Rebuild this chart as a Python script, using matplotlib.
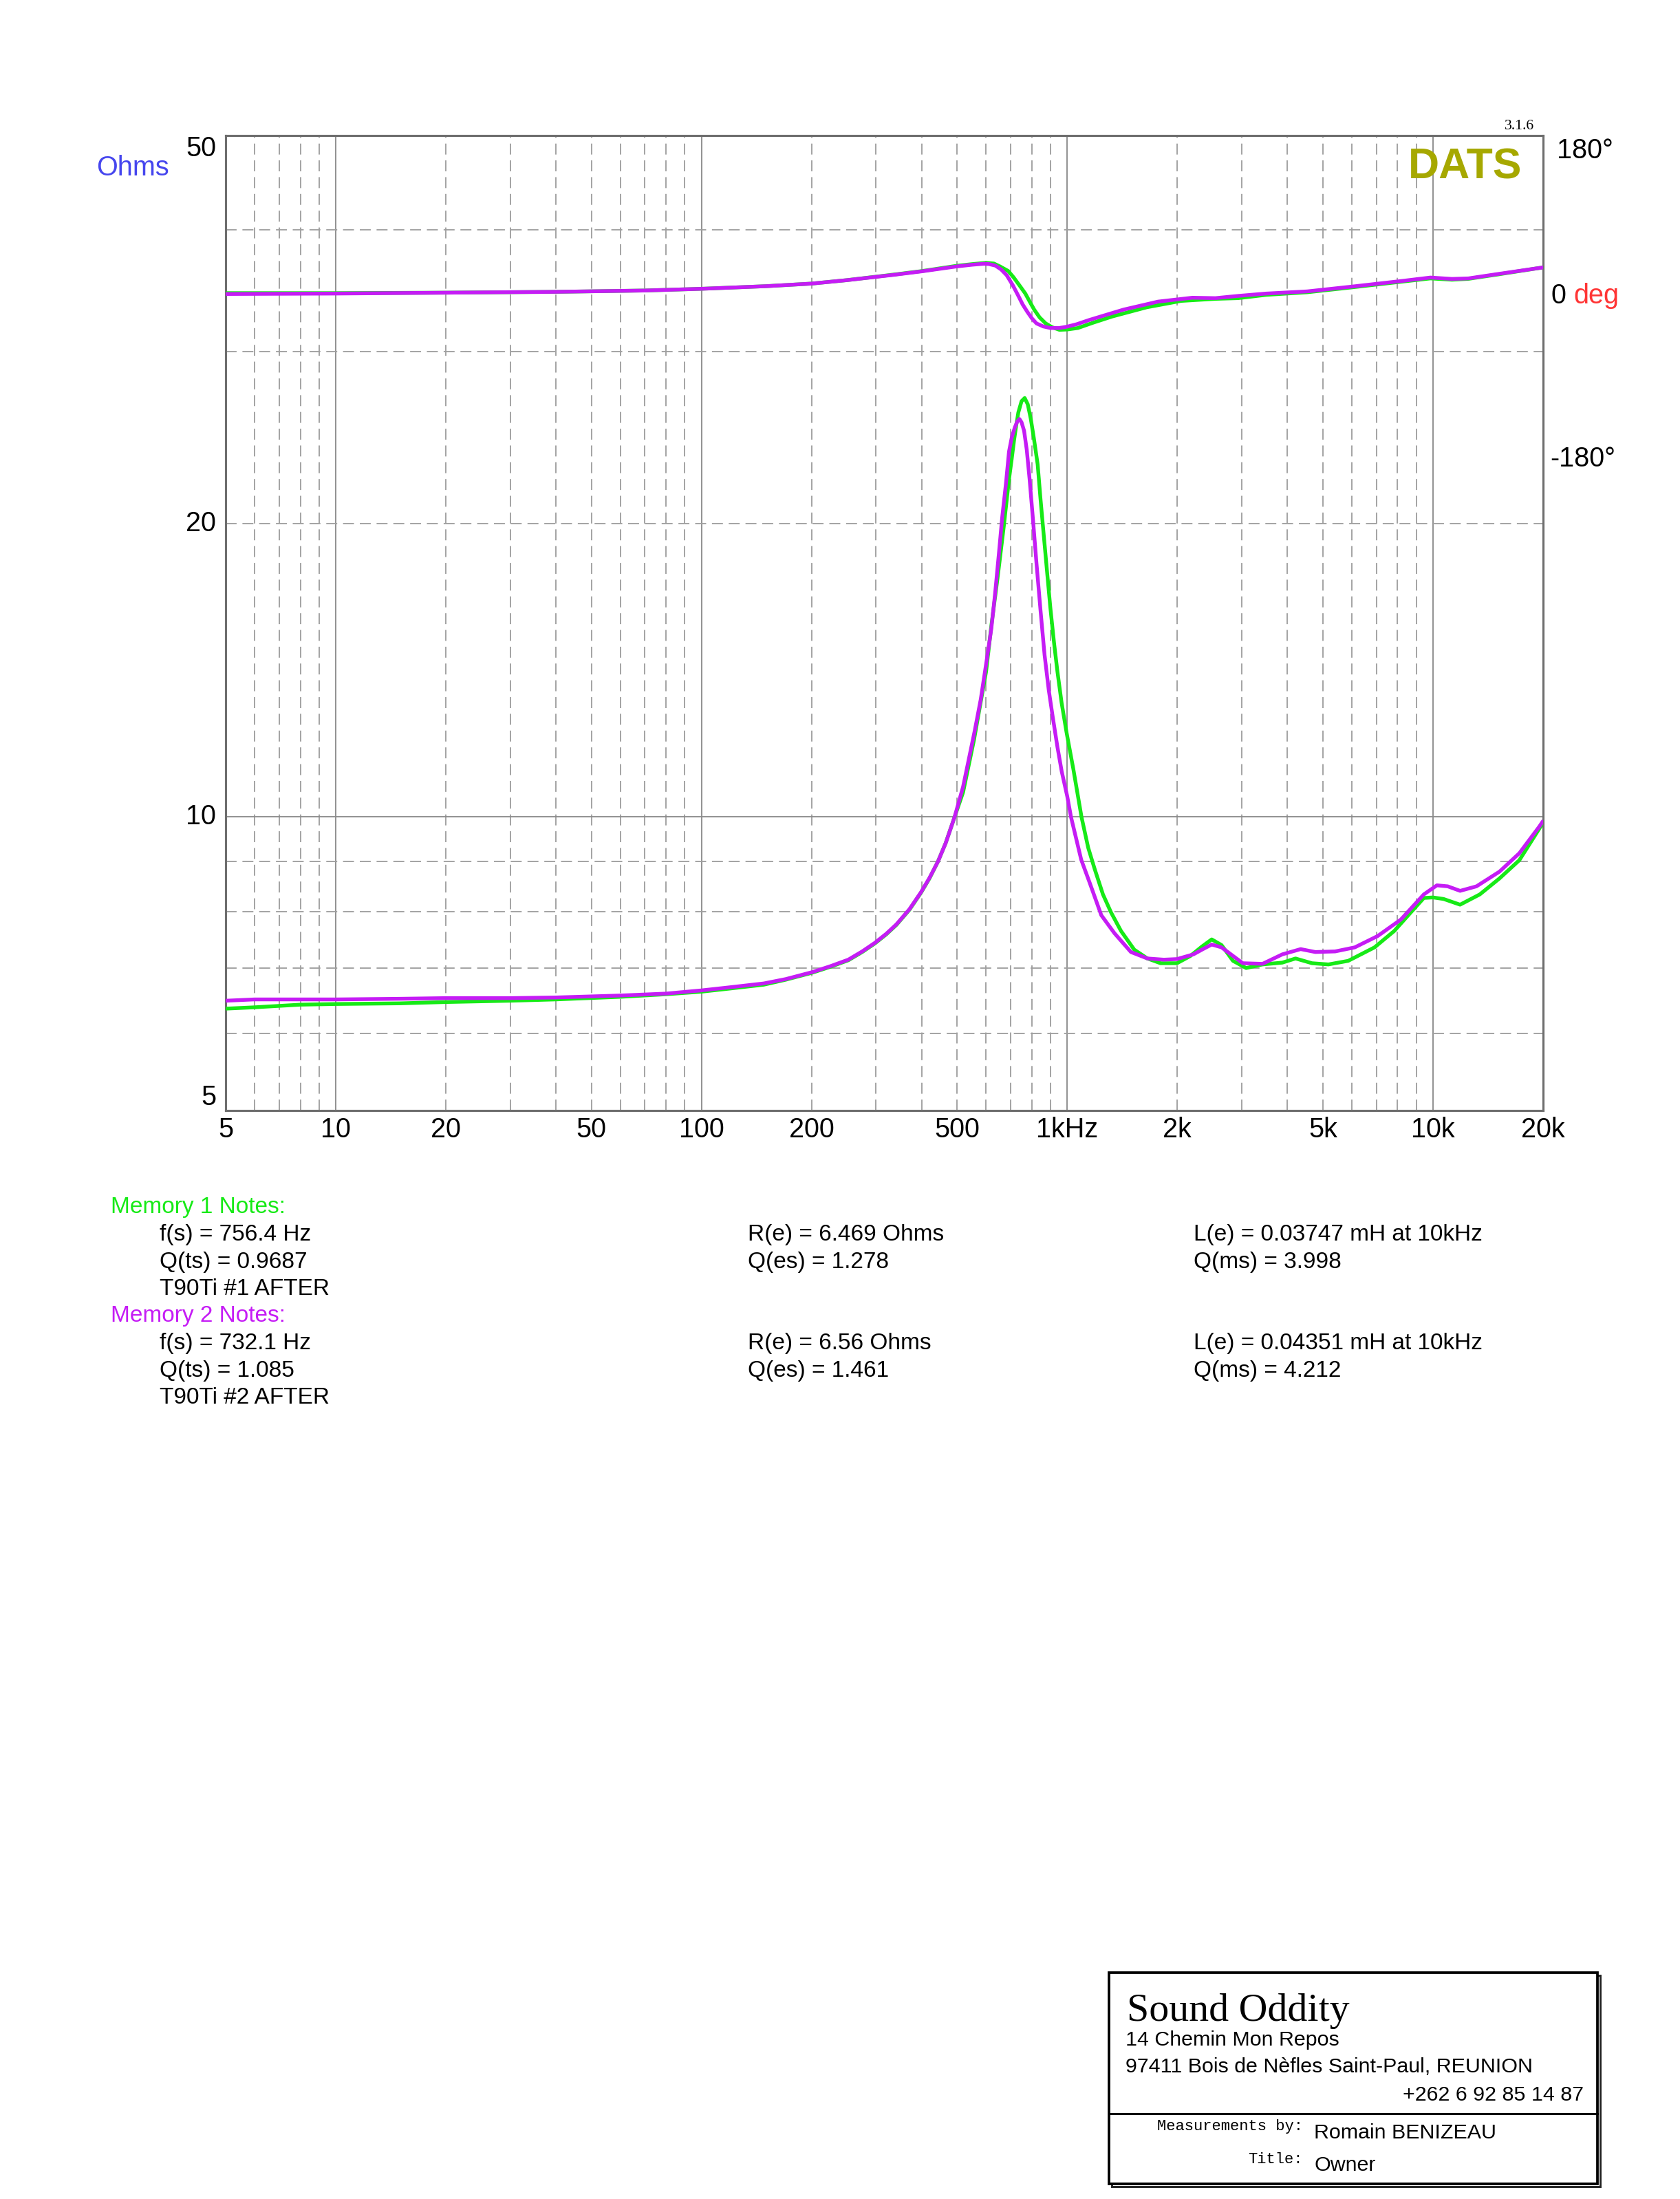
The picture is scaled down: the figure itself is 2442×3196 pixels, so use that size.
import matplotlib
matplotlib.use('Agg')
import matplotlib.pyplot as plt
from matplotlib.patches import Rectangle
from matplotlib.lines import Line2D
from matplotlib.ticker import NullLocator

plt.rcParams['font.family'] = ['Liberation Sans', 'DejaVu Sans']

# ---------------- data ----------------
# Memory 1 (green) impedance, Ohms
freq_imp_1 = [5, 6, 8, 10, 15, 20, 30, 40, 60, 80, 100, 120, 148, 170, 200, 225, 252, 275, 298,
              320, 341, 370, 398, 420, 443, 465, 492, 519, 556, 600, 620, 645, 670, 693, 705,
              715, 725, 735, 750, 765, 780, 795, 810, 830, 845, 861, 880, 899, 920, 940, 965,
              996, 1039, 1094, 1141, 1189, 1252, 1318, 1403, 1525, 1656, 1799, 1995,
              2168, 2330, 2483, 2642, 2839, 3084, 3420, 3873, 4209, 4669, 5178, 5864, 6920,
              7834, 8690, 9440, 10000, 10690, 11860, 13430, 15200, 17220, 19500, 19900]
imp_1 = [6.36, 6.38, 6.42, 6.43, 6.44, 6.46, 6.48, 6.50, 6.54, 6.58, 6.62, 6.67, 6.73, 6.81,
         6.92, 7.02, 7.13, 7.27, 7.42, 7.58, 7.75, 8.03, 8.36, 8.65, 9.0, 9.4, 10.0, 10.6, 12.0,
         14.1, 15.7, 17.6, 19.8, 22.2, 23.3, 24.3, 25.2, 26.0, 26.7, 26.9, 26.5, 25.6, 24.5,
         23.0, 21.2, 19.6, 17.9, 16.4, 15.1, 14.1, 13.1, 12.2, 11.2, 10.0, 9.3, 8.84,
         8.33, 7.98, 7.64, 7.31, 7.16, 7.08, 7.08, 7.20, 7.36, 7.49, 7.39, 7.12, 7.00, 7.06,
         7.09, 7.16, 7.08, 7.06, 7.12, 7.35, 7.64, 7.98, 8.26, 8.27, 8.24, 8.13, 8.33, 8.65,
         9.03, 9.72, 9.85]

# Memory 2 (purple) impedance, Ohms
freq_imp_2 = [5, 6, 8, 10, 15, 20, 30, 40, 60, 80, 100, 120, 148, 170, 200, 225, 252, 275, 298,
              320, 341, 370, 398, 420, 443, 465, 492, 519, 558, 580, 600, 620, 635, 650, 664,
              680, 693, 705, 719, 730, 740, 750, 762, 775, 789, 805, 824, 845, 867, 890, 912,
              940, 966, 1000, 1024, 1092, 1152, 1239, 1346, 1493, 1656, 1837, 1995, 2213, 2350,
              2483, 2642, 3020, 3420, 3873, 4347, 4766, 5400, 6110, 7060, 8170, 9440, 10250,
              10970, 11860, 13150, 15200, 17220, 19500, 19900]
imp_2 = [6.48, 6.50, 6.50, 6.50, 6.51, 6.52, 6.52, 6.53, 6.56, 6.59, 6.64, 6.69, 6.75, 6.82,
         6.93, 7.03, 7.14, 7.28, 7.43, 7.59, 7.76, 8.04, 8.37, 8.66, 9.0, 9.4, 10.0, 10.74, 12.24,
         13.2, 14.35, 15.6, 16.96, 18.6, 20.3, 22.0, 23.7, 24.5, 25.1, 25.45, 25.6, 25.4, 24.9,
         23.8, 22.2, 20.3, 18.2, 16.3, 14.66, 13.5, 12.69, 11.8, 11.13, 10.5, 10.0, 9.04, 8.56,
         7.93, 7.60, 7.27, 7.16, 7.14, 7.15, 7.23, 7.32, 7.40, 7.35, 7.08, 7.07, 7.23, 7.32,
         7.27, 7.28, 7.35, 7.55, 7.85, 8.33, 8.51, 8.49, 8.40, 8.49, 8.79, 9.18, 9.77, 9.88]

# Memory 1 (green) phase, degrees
freq_ph_1 = [5, 10, 20, 40, 70, 100, 150, 200, 250, 337, 401, 498, 550, 600, 630, 655, 690, 714,
             740, 768, 790, 812, 840, 873, 910, 952, 1000, 1069, 1180, 1327, 1648, 2047, 2541,
             2936, 3500, 4530, 5960, 8320, 9840, 11270, 12500, 15000, 19500, 19900]
ph_1 = [-2, -2, -1.5, -0.5, 1, 3, 6, 9, 13, 19.5, 23.5, 29.5, 31.5, 33, 32.2, 28.8, 23.5, 16,
        7, -2.5, -12, -21, -30, -37, -41.5, -44.4, -44, -42.3, -36, -29, -18.4, -11, -8.6,
        -7.8, -4, -1, 4.5, 11.5, 15, 13.5, 14.5, 19.5, 27, 27.5]

# Memory 2 (purple) phase, degrees
freq_ph_2 = [5, 10, 20, 40, 70, 100, 150, 200, 250, 337, 401, 498, 550, 592, 610, 636, 660, 683,
             710, 735, 755, 778, 800, 824, 860, 899, 950, 995, 1060, 1149, 1280, 1427, 1772,
             2198, 2541, 2936, 3500, 4530, 5960, 8320, 9840, 11270, 12500, 15000, 19500, 19900]
ph_2 = [-3, -2.5, -1.5, -0.5, 1, 3, 6, 9, 13, 19.2, 23.2, 28.8, 30.8, 31.9, 31.6, 29.8, 25.2,
        18.7, 7, -5.2, -15, -23.7, -31, -37, -40.5, -42.3, -42.3, -40.9, -38, -33, -27, -21,
        -11.8, -7.3, -7.8, -5.2, -2.5, 0, 5.4, 12.3, 16, 14.4, 15, 20, 27, 27.5]

xtick_vals = [5, 10, 20, 50, 100, 200, 500, 1000, 2000, 5000, 10000, 20000]
xtick_labels = ['5', '10', '20', '50', '100', '200', '500', '1kHz', '2k', '5k', '10k', '20k']
ytick_vals = [5, 10, 20, 50]
ytick_labels = ['5', '10', '20', '50']
grid_x_solid = [10, 100, 1000, 10000]
grid_x_dashed = [6, 7, 8, 9, 20, 30, 40, 50, 60, 70, 80, 90, 200, 300, 400, 500, 600, 700, 800,
                 900, 2000, 3000, 4000, 5000, 6000, 7000, 8000, 9000]
grid_y_solid = [10]
grid_y_dashed = [6, 7, 8, 9, 20, 30, 40]
phase_labels = ['180°', '0', '-180°']

notes_1 = [['f(s) = 756.4 Hz', 'R(e) = 6.469 Ohms', 'L(e) = 0.03747 mH at 10kHz'],
           ['Q(ts) = 0.9687', 'Q(es) = 1.278', 'Q(ms) = 3.998'],
           ['T90Ti #1 AFTER', '', '']]
notes_2 = [['f(s) = 732.1 Hz', 'R(e) = 6.56 Ohms', 'L(e) = 0.04351 mH at 10kHz'],
           ['Q(ts) = 1.085', 'Q(es) = 1.461', 'Q(ms) = 4.212'],
           ['T90Ti #2 AFTER', '', '']]

GREEN = '#16ea16'
PURPLE = '#c51cf5'

# ---------------- figure ----------------
W, H = 2442, 3196
DPI = 300
fig = plt.figure(figsize=(W / DPI, H / DPI), dpi=DPI)
fig.patch.set_facecolor('white')


def fx(x):
    return x / W


def fy(y):
    return 1 - y / H


L, R, T, B = 328, 2243, 197, 1614
pos = [fx(L), fy(B), (R - L) / W, (B - T) / H]
ax = fig.add_axes(pos)
ax.set_xscale('log')
ax.set_yscale('log')
ax.set_xlim(5, 20000)
ax.set_ylim(5, 50)
ax.xaxis.set_major_locator(NullLocator())
ax.xaxis.set_minor_locator(NullLocator())
ax.yaxis.set_major_locator(NullLocator())
ax.yaxis.set_minor_locator(NullLocator())
for s in ax.spines.values():
    s.set_color('#6e6e6e')
    s.set_linewidth(0.75)

dash = (0, (8.5, 4.5))
for v in grid_x_solid:
    ax.axvline(v, color='#8c8c8c', lw=0.45, zorder=1)
for v in grid_x_dashed:
    ax.axvline(v, color='#a0a0a0', lw=0.45, ls=dash, zorder=1)
for v in grid_y_solid:
    ax.axhline(v, color='#8c8c8c', lw=0.45, zorder=1)
for v in grid_y_dashed:
    ax.axhline(v, color='#a0a0a0', lw=0.45, ls=dash, zorder=1)

LW = 1.3
ax.plot(freq_imp_1, imp_1, color=GREEN, lw=LW, zorder=3, solid_joinstyle='round')
ax.plot(freq_imp_2, imp_2, color=PURPLE, lw=LW, zorder=4, solid_joinstyle='round')

# phase axis: 180 at top of frame, -180 at pixel row 650
ph_per_px = 360.0 / (650 - T)
ax2 = fig.add_axes(pos, frameon=False)
ax2.set_xscale('log')
ax2.set_xlim(5, 20000)
ax2.set_ylim(180 - (B - T) * ph_per_px, 180)
ax2.axis('off')
ax2.plot(freq_ph_1, ph_1, color=GREEN, lw=LW, zorder=3, solid_joinstyle='round')
ax2.plot(freq_ph_2, ph_2, color=PURPLE, lw=LW, zorder=4, solid_joinstyle='round')

# tick labels
TS = 9.5
xt = ax.get_xaxis_transform()
for v, lab in zip(xtick_vals, xtick_labels):
    ax.text(v, -(1653 - B) / (B - T), lab, transform=xt, ha='center', va='baseline',
            fontsize=TS, color='black', clip_on=False)
yt = ax.get_yaxis_transform()
yva = {5: 'bottom', 10: 'center', 20: 'center', 50: 'top'}
for v, lab in zip(ytick_vals, ytick_labels):
    ax.text(-(L - 314) / (R - L), v, lab, transform=yt, ha='right', va=yva[v],
            fontsize=TS, color='black', clip_on=False)

fig.text(fx(140), fy(255), 'Ohms', color='#4646ee', fontsize=TS, va='baseline', ha='left')
fig.text(fx(2263), fy(230), phase_labels[0], fontsize=TS, va='baseline', ha='left')
fig.text(fx(2254), fy(441), phase_labels[1], fontsize=TS, va='baseline', ha='left')
fig.text(fx(2287), fy(441), 'deg', fontsize=TS, va='baseline', ha='left', color='#ff3535')
fig.text(fx(2253), fy(678), phase_labels[2], fontsize=TS, va='baseline', ha='left')

fig.text(fx(2047), fy(259), 'DATS', fontsize=15, fontweight='bold', color='#a6a800',
         va='baseline', ha='left')
fig.text(fx(2230), fy(188), '3.1.6', fontsize=5.2, family='Liberation Serif',
         va='baseline', ha='right')

# notes
NS = 8.0
col_x = [232, 1087, 1735]
fig.text(fx(161), fy(1763), 'Memory 1 Notes:', color=GREEN, fontsize=NS, va='baseline')
base = 1803
for i, row in enumerate(notes_1):
    for cx, t in zip(col_x, row):
        if t:
            fig.text(fx(cx), fy(base + i * 39.5), t, fontsize=NS, va='baseline')
fig.text(fx(161), fy(1921), 'Memory 2 Notes:', color=PURPLE, fontsize=NS, va='baseline')
base = 1961
for i, row in enumerate(notes_2):
    for cx, t in zip(col_x, row):
        if t:
            fig.text(fx(cx), fy(base + i * 39.5), t, fontsize=NS, va='baseline')

# title block
bx0, bx1, by0, by1 = 1612, 2322, 2867, 3174
sh = 4
fig.add_artist(Rectangle((fx(bx0 + sh), fy(by1 + sh)), (bx1 - bx0) / W, (by1 - by0) / H,
                         transform=fig.transFigure, facecolor='none', edgecolor='#222222',
                         lw=0.7))
fig.add_artist(Rectangle((fx(bx0), fy(by1)), (bx1 - bx0) / W, (by1 - by0) / H,
                         transform=fig.transFigure, facecolor='white', edgecolor='black',
                         lw=0.9))
fig.add_artist(Line2D([fx(bx0), fx(bx1)], [fy(3072), fy(3072)], transform=fig.transFigure,
                      color='black', lw=0.7))
fig.text(fx(1638), fy(2937), 'Sound Oddity', family='Liberation Serif', fontsize=13.9,
         va='baseline')
fig.text(fx(1636), fy(2973), '14 Chemin Mon Repos', fontsize=7.3, va='baseline')
fig.text(fx(1636), fy(3012), '97411 Bois de Nèfles Saint-Paul, REUNION', fontsize=7.3,
         va='baseline')
fig.text(fx(2302), fy(3053), '+262 6 92 85 14 87', fontsize=7.3, va='baseline', ha='right')
fig.text(fx(1894), fy(3096), 'Measurements by:', family='Liberation Mono', fontsize=5.3,
         va='baseline', ha='right')
fig.text(fx(1910), fy(3108), 'Romain BENIZEAU', fontsize=7.3, va='baseline')
fig.text(fx(1894), fy(3144), 'Title:', family='Liberation Mono', fontsize=5.3,
         va='baseline', ha='right')
fig.text(fx(1910), fy(3155), 'Owner', fontsize=7.3, va='baseline')

fig.savefig('out.png', dpi=DPI, facecolor='white')
